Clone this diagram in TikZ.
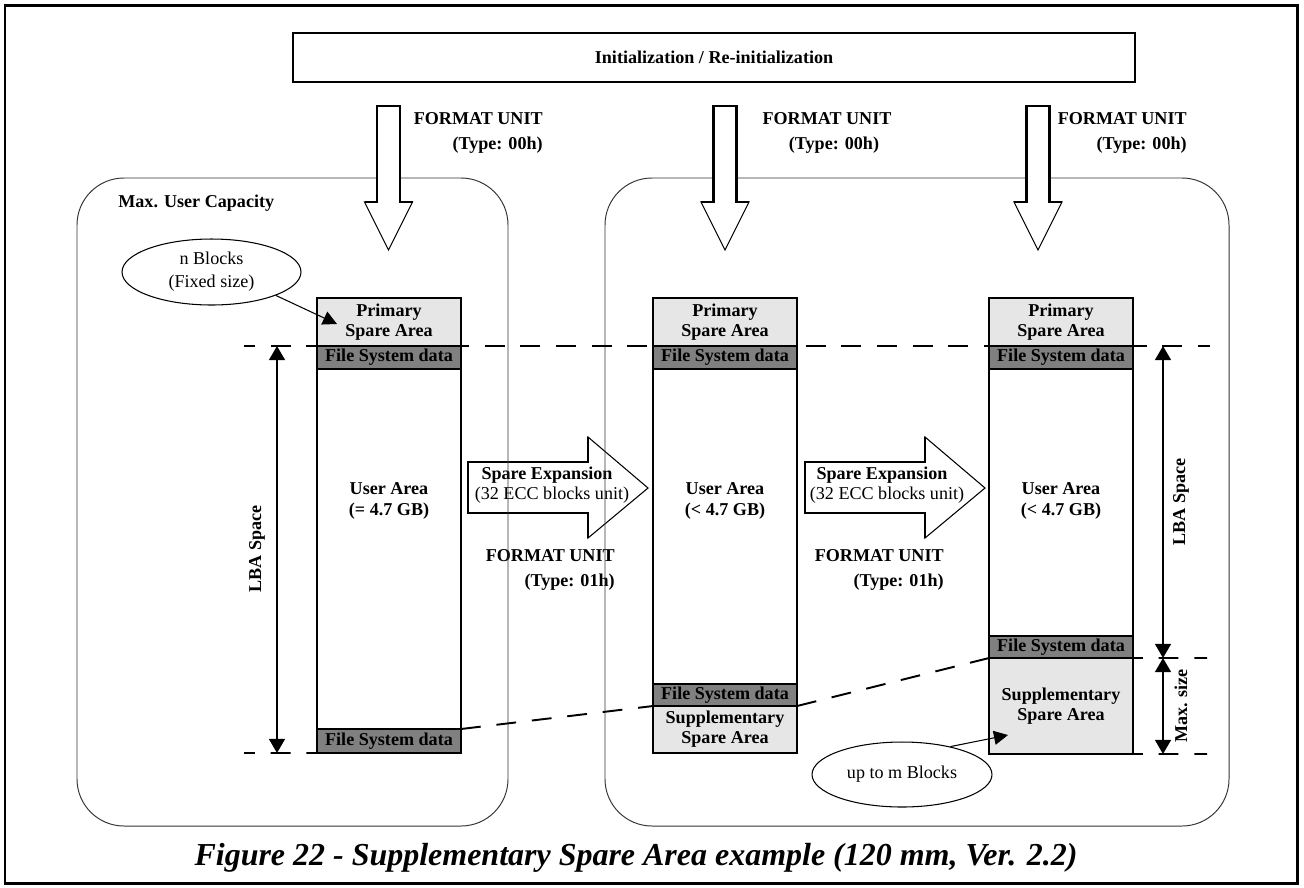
\documentclass[tikz,border=0pt]{standalone}
\usepackage{fontspec}
\setmainfont{Liberation Serif}
\usetikzlibrary{arrows.meta,shapes.geometric}
\definecolor{spare}{HTML}{E6E6E6}
\definecolor{fsdata}{HTML}{808080}
\tikzset{
  txt/.style={font=\fontsize{10.3pt}{12pt}\selectfont\bfseries, inner sep=0pt, align=center},
  txtr/.style={font=\fontsize{10.3pt}{12.5pt}\selectfont, inner sep=0pt, align=center},
  band/.style={draw, line width=1.3pt, minimum width=2.88cm, inner sep=0pt, outer sep=0pt,
    anchor=north west, align=center, font=\fontsize{10.3pt}{11.5pt}\selectfont\bfseries},
  cut/.style={line width=1.1pt, dash pattern=on 11.3pt off 9pt},
  dim/.style={line width=1.1pt, {Triangle[length=8pt,width=9pt]}-{Triangle[length=8pt,width=9pt]}},
  frame/.style={draw=black!80, line width=0.55pt, rounded corners=0.94cm},
  oval/.style={draw, ellipse, line width=0.6pt, inner sep=0pt, align=center,
    font=\fontsize{10.3pt}{13pt}\selectfont},
  pointer/.style={line width=0.6pt, -{Triangle[length=8pt,width=8pt]}}
}

\begin{document}
\begin{tikzpicture}[x=0.02cm, y=-0.02cm]
  \useasboundingbox (0,0) rectangle (1304,887);
  \draw[line width=1.7pt] (5,5) rectangle (1297,883);

  \node[txt, draw, line width=1.1pt, minimum width=16.84cm, minimum height=0.98cm] (init) at (714,57.5) {Initialization / Re-initialization};

  % spare expansion arrows (the box lines run over them)
  \foreach \s in {0,337} {
    \draw[line width=0.6pt] (468+\s,462) -- (588+\s,462) -- (588+\s,437) -- (648+\s,488) -- (588+\s,538) -- (588+\s,513) -- (468+\s,513) -- cycle;
    \draw[line width=1.2pt] (588+\s,437) -- (588+\s,462) -- (468+\s,462) -- (468+\s,513) -- (588+\s,513) -- (588+\s,538);
  }
  \node[txt] (spx1) at (547,475) {Spare Expansion};
  \node[txtr] (ecc1) at (552,495) {(32 ECC blocks unit)};
  \node[txt] (spx2) at (882,475) {Spare Expansion};
  \node[txtr] (ecc2) at (887,495) {(32 ECC blocks unit)};
  \node[txt, anchor=east] (fmt4) at (615,556) {FORMAT UNIT};
  \node[txt, anchor=east] (typ4) at (615,582) {(Type: 01h)};
  \node[txt, anchor=east] (fmt5) at (944,556) {FORMAT UNIT};
  \node[txt, anchor=east] (typ5) at (944,582) {(Type: 01h)};

  % capacity boxes
  \draw[frame] (77,178) rectangle (508,826);
  \draw[frame] (605,178) rectangle (1229,826);
  \node[txt, anchor=west] (muc) at (118,203) {Max. User Capacity};

  % format unit arrows
  \foreach \x in {388.5,725,1038} {
    \filldraw[fill=white, line width=0.6pt] (\x-11.5,106) -- (\x+11.5,106) -- (\x+11.5,202) -- (\x+24,202) -- (\x,250) -- (\x-24,202) -- (\x-11.5,202) -- cycle;
    \draw[line width=1.3pt] (\x-24,202) -- (\x-11.5,202) -- (\x-11.5,106) -- (\x+11.5,106) -- (\x+11.5,202) -- (\x+24,202);
  }
  \node[txt, anchor=east] (fmt1) at (543,119) {FORMAT UNIT};
  \node[txt, anchor=east] (typ1) at (543,145) {(Type: 00h)};
  \node[txt] (fmt2) at (827,119) {FORMAT UNIT};
  \node[txt] (typ2) at (834,145) {(Type: 00h)};
  \node[txt, anchor=east] (fmt3) at (1187,119) {FORMAT UNIT};
  \node[txt, anchor=east] (typ3) at (1187,145) {(Type: 00h)};

  % dashed level lines
  \coordinate (topL) at (244,346);
  \coordinate (topR) at (1210,346);
  \coordinate (botL) at (244,753);
  \coordinate (botR) at (1207,754);
  \coordinate (midR) at (1207,658);
  \draw[cut, dash phase=5.1pt] (topL) -- (topR);

  % column 1
  \node[band, fill=spare, minimum height=0.96cm] (psa1) at (317,298) {Primary\\Spare Area};
  \node[band, fill=fsdata, minimum height=0.46cm] (fsd1a) at (317,346) {File System data};
  \node[band, fill=white, minimum height=7.2cm] (ua1) at (317,369) {};
  \node[band, fill=fsdata, minimum height=0.48cm] (fsd1b) at (317,729) {File System data};
  \node[txt] (ua1t) at (389,501) {User Area\\(= 4.7 GB)};

  % column 2
  \node[band, fill=spare, minimum height=0.96cm] (psa2) at (653,298) {Primary\\Spare Area};
  \node[band, fill=fsdata, minimum height=0.46cm] (fsd2a) at (653,346) {File System data};
  \node[band, fill=white, minimum height=6.3cm] (ua2) at (653,369) {};
  \node[band, fill=fsdata, minimum height=0.44cm] (fsd2b) at (653,684) {File System data};
  \node[band, fill=spare, minimum height=0.94cm] (ssa2) at (653,706) {Supplementary\\Spare Area};
  \node[txt] (ua2t) at (725,501) {User Area\\(< 4.7 GB)};

  % column 3
  \node[band, fill=spare, minimum height=0.96cm] (psa3) at (989,298) {Primary\\Spare Area};
  \node[band, fill=fsdata, minimum height=0.46cm] (fsd3a) at (989,346) {File System data};
  \node[band, fill=white, minimum height=5.34cm] (ua3) at (989,369) {};
  \node[band, fill=fsdata, minimum height=0.44cm] (fsd3b) at (989,636) {File System data};
  \node[band, fill=spare, minimum height=1.92cm] (ssa3) at (989,658) {Supplementary\\Spare Area};
  \node[txt] (ua3t) at (1061,501) {User Area\\(< 4.7 GB)};

  \draw[cut, dash phase=5.1pt] (botL) -- (fsd1b.south west);
  \draw[cut, dash phase=5.7pt] (ssa3.south east) -- (botR);
  \draw[cut, dash phase=5.7pt] (fsd3b.south east) -- (midR);
  \draw[cut] (fsd1b.north east) -- (ssa2.north west);
  \draw[cut] (ssa2.north east) -- (ssa3.north west);

  % LBA space / max size
  \coordinate (lbaA) at (277,346);
  \coordinate (lbaB) at (277,753);
  \coordinate (lbaC) at (1163,346);
  \coordinate (lbaD) at (1163,658);
  \coordinate (lbaE) at (1163,754);
  \draw[dim] (lbaA) -- (lbaB);
  \draw[dim] (lbaC) -- (lbaD);
  \draw[dim] (lbaD) -- (lbaE);
  \node[txt, rotate=90] (lba1) at (257,549) {LBA Space};
  \node[txt, rotate=90] (lba2) at (1181,502) {LBA Space};
  \node[txt, rotate=90] (maxs) at (1181,706) {Max. size};

  % block counts
  \node[oval, minimum width=3.58cm, minimum height=1.32cm] (nblk) at (211.5,272) {n Blocks\\(Fixed size)};
  \node[oval, minimum width=3.6cm, minimum height=1.3cm] (mblk) at (902,774.5) {up to m Blocks};
  \coordinate (nblkTip) at (337,324);
  \coordinate (mblkTip) at (1008,735);
  \draw[pointer] (nblk.-20) -- (nblkTip);
  \draw[pointer] (mblk.30) -- (mblkTip);

  \node[font=\fontsize{18.2pt}{21pt}\selectfont\bfseries\itshape, inner sep=0pt] (cap) at (636,858) {Figure 22 - Supplementary Spare Area example (120 mm, Ver. 2.2)};
\end{tikzpicture}
\end{document}
